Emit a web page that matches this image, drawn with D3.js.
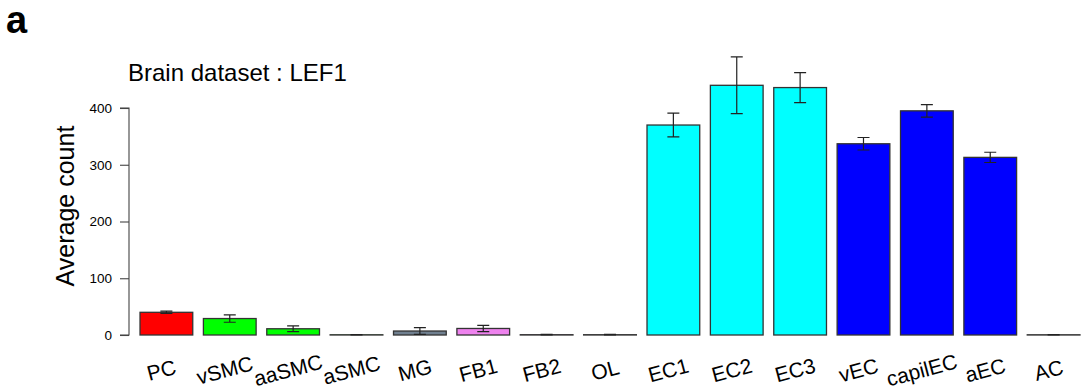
<!DOCTYPE html>
<html>
<head>
<meta charset="utf-8">
<script src="https://cdn.jsdelivr.net/npm/d3@7"></script>
<style>
  html, body { margin: 0; padding: 0; background: #fff; }
  svg { display: block; font-family: "Liberation Sans", Arial, Helvetica, sans-serif; }
</style>
</head>
<body>
<svg id="chart" width="1083" height="391"></svg>
<script>
// ---- data ----
const categories = ["PC", "vSMC", "aaSMC", "aSMC", "MG", "FB1", "FB2", "OL",
                    "EC1", "EC2", "EC3", "vEC", "capilEC", "aEC", "AC"];
const averageCount = [40, 29, 11, 0.4, 7, 11.5, 0.5, 0.5, 370, 440, 436, 337, 395, 313, 0.4];
const errorValues  = [2, 6.5, 5, 0.4, 6, 5.5, 0.5, 0.5, 21, 50, 26.5, 11, 11, 9, 0.3];
const barColors    = ["#ff0000", "#00ff00", "#00ff00", "#00ff00", "#708090", "#ee82ee", "#ee82ee", "#ffffff",
                      "#00ffff", "#00ffff", "#00ffff", "#0000ff", "#0000ff", "#0000ff", "#ffffff"];
const yTicks = [0, 100, 200, 300, 400];
const titleText = "Brain dataset : LEF1";
const yTitle = "Average count";
const panelLabel = "a";

// ---- layout ----
const svg = d3.select("#chart");
const x = d3.scaleBand()
  .domain(categories)
  .range([134.7, 1085.3])
  .paddingInner(0.168)
  .paddingOuter(0.084);
const y = d3.scaleLinear().domain([0, 400]).range([335, 108]);

const rows = categories.map((c, i) => ({ c, v: averageCount[i], e: errorValues[i], col: barColors[i] }));

// panel label
svg.append("text").attr("x", 6).attr("y", 33)
  .attr("font-size", 38).attr("font-weight", "bold").attr("fill", "#000")
  .text(panelLabel);

// title
svg.append("text").attr("x", 128).attr("y", 81)
  .attr("font-size", 24).attr("fill", "#000").text(titleText);

// y axis
const yAxis = d3.axisLeft(y).tickValues(yTicks).tickSize(9).tickPadding(8);
const gy = svg.append("g").attr("transform", "translate(129,0)").call(yAxis);
gy.select(".domain").attr("stroke", "#444").attr("stroke-width", 1.1).attr("d", `M-9,${y(400)}H0V${y(0)}H-9`);
gy.selectAll(".tick line").attr("stroke", "#444").attr("stroke-width", 1.1);
gy.selectAll(".tick text").attr("font-size", 13.5).attr("fill", "#000")
  .attr("font-family", "'Liberation Sans', Arial, sans-serif");

// y title
svg.append("text")
  .attr("transform", `translate(74,${206}) rotate(-90)`)
  .attr("text-anchor", "middle")
  .attr("font-size", 25).attr("fill", "#000").text(yTitle);

// bars
svg.append("g").selectAll("rect").data(rows).join("rect")
  .attr("x", d => x(d.c))
  .attr("width", x.bandwidth())
  .attr("y", d => y(d.v))
  .attr("height", d => y(0) - y(d.v))
  .attr("fill", d => d.col)
  .attr("stroke", "#333")
  .attr("stroke-width", 1.3);

// error bars
const eb = svg.append("g").attr("stroke", "#222").attr("stroke-width", 1.2).attr("fill", "none");
rows.forEach(d => {
  const cx = x(d.c) + x.bandwidth() / 2;
  const top = y(d.v + d.e), bot = y(Math.max(0, d.v - d.e));
  eb.append("path").attr("d",
    `M${cx},${top}V${bot}M${cx - 6},${top}H${cx + 6}M${cx - 6},${bot}H${cx + 6}`);
});

// x labels (rotated)
svg.append("g").selectAll("text").data(rows).join("text")
  .attr("transform", d => `translate(${x(d.c) + x.bandwidth() / 2 - 5},370) rotate(-15)`)
  .attr("text-anchor", "middle")
  .attr("dominant-baseline", "central")
  .attr("font-size", 21).attr("fill", "#000")
  .text(d => d.c);
</script>
</body>
</html>
